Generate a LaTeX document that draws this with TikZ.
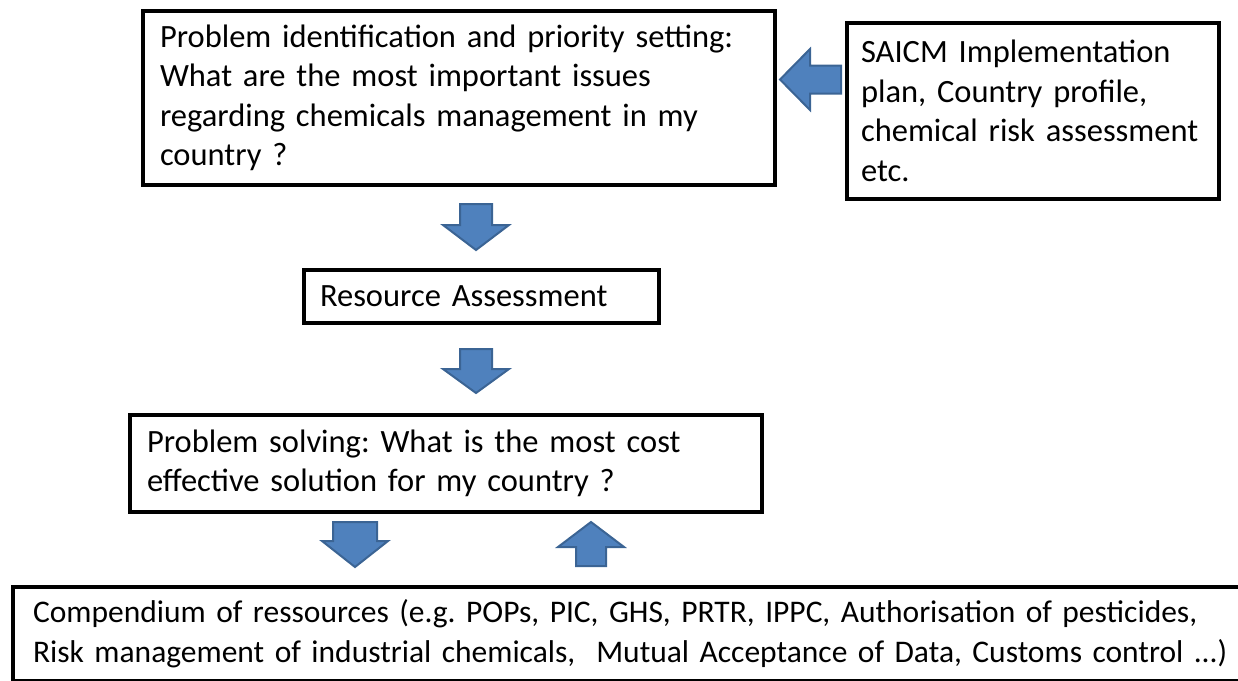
\documentclass[tikz,border=0pt]{standalone}
\usepackage{fontspec}
\setmainfont{Carlito}
\definecolor{arrowblue}{HTML}{4F81BD}
\definecolor{arrowedge}{HTML}{3B6494}
\frenchspacing

\begin{document}
\begin{tikzpicture}[x=1pt,y=-1pt,
  main box/.style={draw,line width=4.5pt,outer sep=0pt,anchor=north west,align=left,
    inner ysep=0pt,font=\fontsize{32.5}{39.5}\selectfont},
  block/.style={fill=arrowblue,draw=arrowedge,line width=2pt,line join=miter},
  pics/block arrow/.style n args={4}{code={
    \draw[block] (-#1,0) -- (#1,0) -- (#1,#2) -- (#3,#2) -- (0,#4) -- (-#3,#2) -- (-#1,#2) -- cycle;}}]

  \useasboundingbox (0,0) rectangle (1238,680);

  % the boxes, placed by their upper left corner
  \node[main box,minimum width=632pt,minimum height=174pt,inner xsep=17pt,text width=598pt] (problem) at (143,11)
    {Problem identification and priority setting:\\What are the most important issues\\regarding chemicals management in my\\country ?};
  \node[main box,minimum width=372pt,minimum height=176pt,inner xsep=14pt,text width=344pt] (sources) at (847,23)
    {SAICM Implementation\\plan, Country profile,\\chemical risk assessment\\etc.};
  \node[main box,minimum width=355pt,minimum height=53pt,inner xsep=16pt,text width=323pt] (resource) at (304,270)
    {Resource Assessment};
  \node[main box,minimum width=632pt,minimum height=97pt,inner xsep=17pt,text width=598pt] (solving) at (130,415)
    {Problem solving: What is the most cost\\effective solution for my country ?};
  \node[main box,minimum width=1270pt,minimum height=94pt,inner xsep=20pt,text width=1230pt,
    font=\fontsize{31.5}{40}\selectfont] (compendium) at (13,587)
    {Compendium of ressources (e.g. POPs, PIC, GHS, PRTR, IPPC, Authorisation of pesticides,\\Risk management of industrial chemicals,~ Mutual Acceptance of Data, Customs control ...)};

  % block arrows: shaft half width, head start, head half width, length
  \pic[rotate=-90] at (841,79.5) {block arrow={14}{31}{30.5}{61}};
  \pic at (476,204) {block arrow={16}{21}{33}{46}};
  \pic at (476,349) {block arrow={16}{20}{33}{44}};
  \pic at (355,522) {block arrow={22}{19}{33}{45}};
  \pic[rotate=180] at (591,566) {block arrow={15}{19}{33}{44}};
\end{tikzpicture}
\end{document}
